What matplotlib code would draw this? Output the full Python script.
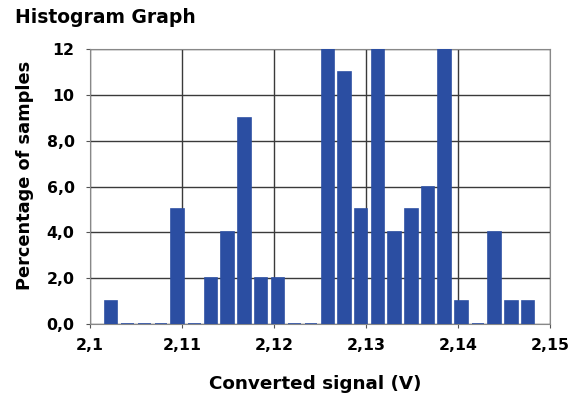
import numpy as np
import matplotlib
matplotlib.use('Agg')
import matplotlib.pyplot as plt

# bin centres (V) and percentage of samples per bin
bin_start = 2.10228
bin_width = 0.001813
percent = [1, 0, 0, 0, 5, 0, 2, 4, 9, 2, 2, 0, 0,
           12, 11, 5, 13, 4, 5, 6, 12, 1, 0, 4, 1, 1]
centers = bin_start + bin_width * np.arange(len(percent))

x_ticks = [2.10, 2.11, 2.12, 2.13, 2.14, 2.15]
x_labels = ['2,1', '2,11', '2,12', '2,13', '2,14', '2,15']
y_ticks = [0, 2, 4, 6, 8, 10, 12]
y_labels = ['0,0', '2,0', '4,0', '6,0', '8,0', '10', '12']

bar_color = '#2b4ea2'
plt.rcParams['font.family'] = 'DejaVu Sans'
plt.rcParams['font.weight'] = 'bold'

fig = plt.figure(figsize=(5.73, 3.96), dpi=100)
ax = fig.add_axes([0.157, 0.182, 0.803, 0.694])

ax.bar(centers, percent, width=bin_width * 0.75, color=bar_color,
       edgecolor=bar_color, linewidth=1.2, zorder=3)

ax.set_xlim(2.10, 2.15)
ax.set_ylim(0, 12)
ax.set_xticks(x_ticks)
ax.set_xticklabels(x_labels)
ax.set_yticks(y_ticks)
ax.set_yticklabels(y_labels)
ax.tick_params(labelsize=11.3, length=3, color='#555555')
ax.tick_params(axis='x', pad=7)
ax.tick_params(axis='y', pad=8)
ax.grid(True, color='#3a3a3a', linewidth=1, zorder=0)
for s in ax.spines.values():
    s.set_color('#888888')

ax.set_xlabel('Converted signal (V)', fontsize=13.2, fontweight='bold')
ax.set_ylabel('Percentage of samples', fontsize=12.8, fontweight='bold')
ax.xaxis.set_label_coords(0.49, -0.185)
ax.yaxis.set_label_coords(-0.122, 0.54)
fig.text(0.026, 0.955, 'Histogram Graph', fontsize=13.5, fontweight='bold', va='center')

fig.savefig('out.png', dpi=100)
